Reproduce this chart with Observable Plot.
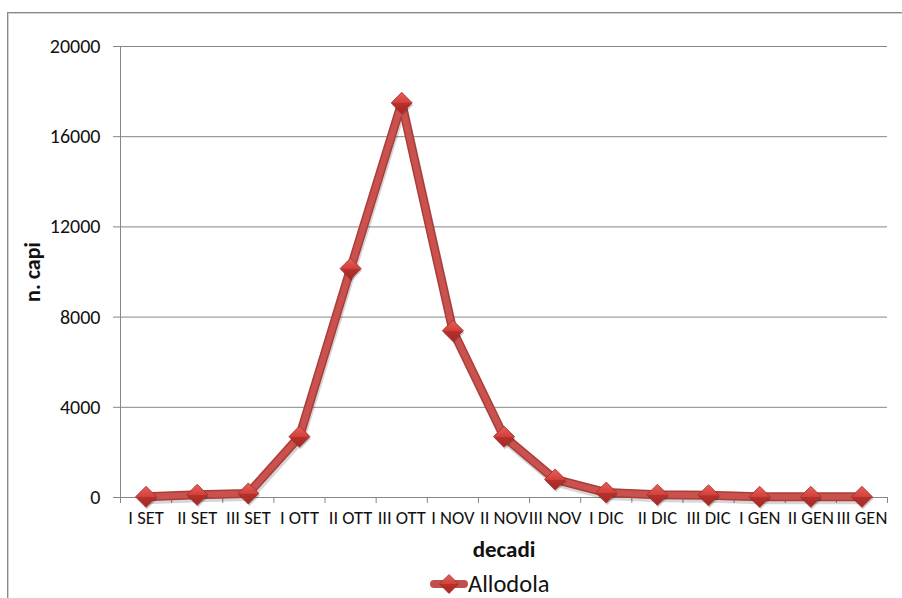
<!DOCTYPE html>
<html>
<head>
<meta charset="utf-8">
<script src="https://cdn.jsdelivr.net/npm/d3@7"></script>
<script src="https://cdn.jsdelivr.net/npm/@observablehq/plot@0.6"></script>
<style>
  html, body { margin: 0; padding: 0; background: #fff; }
  body { width: 902px; height: 598px; position: relative; overflow: hidden; font-family: Carlito, Lato, "Liberation Sans", sans-serif; }
  #frame { position: absolute; left: 7px; top: 12px; width: 920px; height: 620px; border: 1px solid #8a8a8a; box-shadow: inset 1px 1px 0 #d0d0d0; }
  #chart { position: absolute; left: 0; top: 0; }
  #legend { position: absolute; left: 0; top: 565px; width: 902px; height: 32px; }
  #legend .item { position: absolute; left: 430px; top: 7px; height: 24px; display: flex; align-items: center; }
  #legend span { font-size: 24.5px; color: #111; line-height: 24px; }
</style>
</head>
<body>
<svg width="0" height="0" style="position:absolute">
  <defs>
    <linearGradient id="dg" x1="0" y1="0" x2="0" y2="1">
      <stop offset="0" stop-color="#e8605a"/>
      <stop offset="0.5" stop-color="#d2403b"/>
      <stop offset="0.52" stop-color="#b8302c"/>
      <stop offset="1" stop-color="#a52825"/>
    </linearGradient>
  </defs>
</svg>
<div id="frame"></div>
<div id="chart"></div>
<div id="legend"><div class="item">
  <svg width="38" height="24"><line x1="4" y1="12" x2="34" y2="12" stroke="#c0504d" stroke-width="8" stroke-linecap="round"/><path d="M19 2.5 L28.5 12 L19 21.5 L9.5 12 Z" fill="url(#dg)" stroke="#9c2f2c" stroke-width="0.8"/></svg>
  <span>Allodola</span>
</div></div>
<script>
const decadi = ["I SET","II SET","III SET","I OTT","II OTT","III OTT","I NOV","II NOV","III NOV","I DIC","II DIC","III DIC","I GEN","II GEN","III GEN"];
const capi = [30, 120, 180, 2700, 10150, 17500, 7400, 2700, 800, 220, 120, 100, 30, 30, 30];
const yTicks = [0, 4000, 8000, 12000, 16000, 20000];
const xTitle = "decadi";
const yTitle = "n. capi";

const data = decadi.map((d, i) => ({i, d, v: capi[i]}));
const boundaries = d3.range(decadi.length + 1).map(i => i - 0.5);
const grid = "#868686";

const chart = Plot.plot({
  width: 902,
  height: 565,
  marginTop: 46,
  marginLeft: 120,
  marginRight: 15,
  marginBottom: 68,
  style: {fontFamily: "Carlito, Lato, 'Liberation Sans', sans-serif", color: "#111", background: "transparent"},
  x: {type: "linear", domain: [-0.5, decadi.length - 0.5]},
  y: {domain: [0, 20000]},
  marks: [
    Plot.gridY({ticks: yTicks, stroke: grid, strokeOpacity: 1}),
    Plot.frame({anchor: "left", stroke: grid}),
    Plot.ruleY([0], {stroke: grid}),
    Plot.axisY({ticks: yTicks, tickSize: 7, tickPadding: 13, fontSize: 20, label: null, stroke: grid, tickFormat: d => String(d)}),
    Plot.axisX({ticks: boundaries, tickSize: 6, tickFormat: () => "", label: null, stroke: grid}),
    Plot.axisX({ticks: d3.range(decadi.length), tickSize: 0, tickPadding: 13, fontSize: 18.5, label: null, tickFormat: i => decadi[i]}),
    Plot.line(data, {x: "i", y: "v", stroke: "#000", strokeOpacity: 0.16, strokeWidth: 9, dy: 3, dx: 1}),
    Plot.line(data, {x: "i", y: "v", stroke: "#ab3c39", strokeWidth: 9, strokeLinejoin: "round"}),
    Plot.line(data, {x: "i", y: "v", stroke: "#c9524e", strokeWidth: 6, strokeLinejoin: "round"}),
    Plot.dot(data, {x: "i", y: "v", symbol: "diamond2", r: 9.5, fill: "#000", fillOpacity: 0.2, stroke: "none", dy: 2, dx: 1}),
    Plot.dot(data, {x: "i", y: "v", symbol: "diamond2", r: 9.5, fill: "url(#dg)", stroke: "#9c2f2c", strokeWidth: 0.8}),
    Plot.text([yTitle], {frameAnchor: "left", textAnchor: "middle", lineAnchor: "middle", rotate: -90, dx: -88, fontWeight: "bold", fontSize: 22, fill: "#111"}),
    Plot.text([xTitle], {frameAnchor: "bottom", textAnchor: "middle", lineAnchor: "middle", dy: 52, fontWeight: "bold", fontSize: 23, fill: "#111"})
  ]
});
document.getElementById("chart").appendChild(chart);
</script>
</body>
</html>
